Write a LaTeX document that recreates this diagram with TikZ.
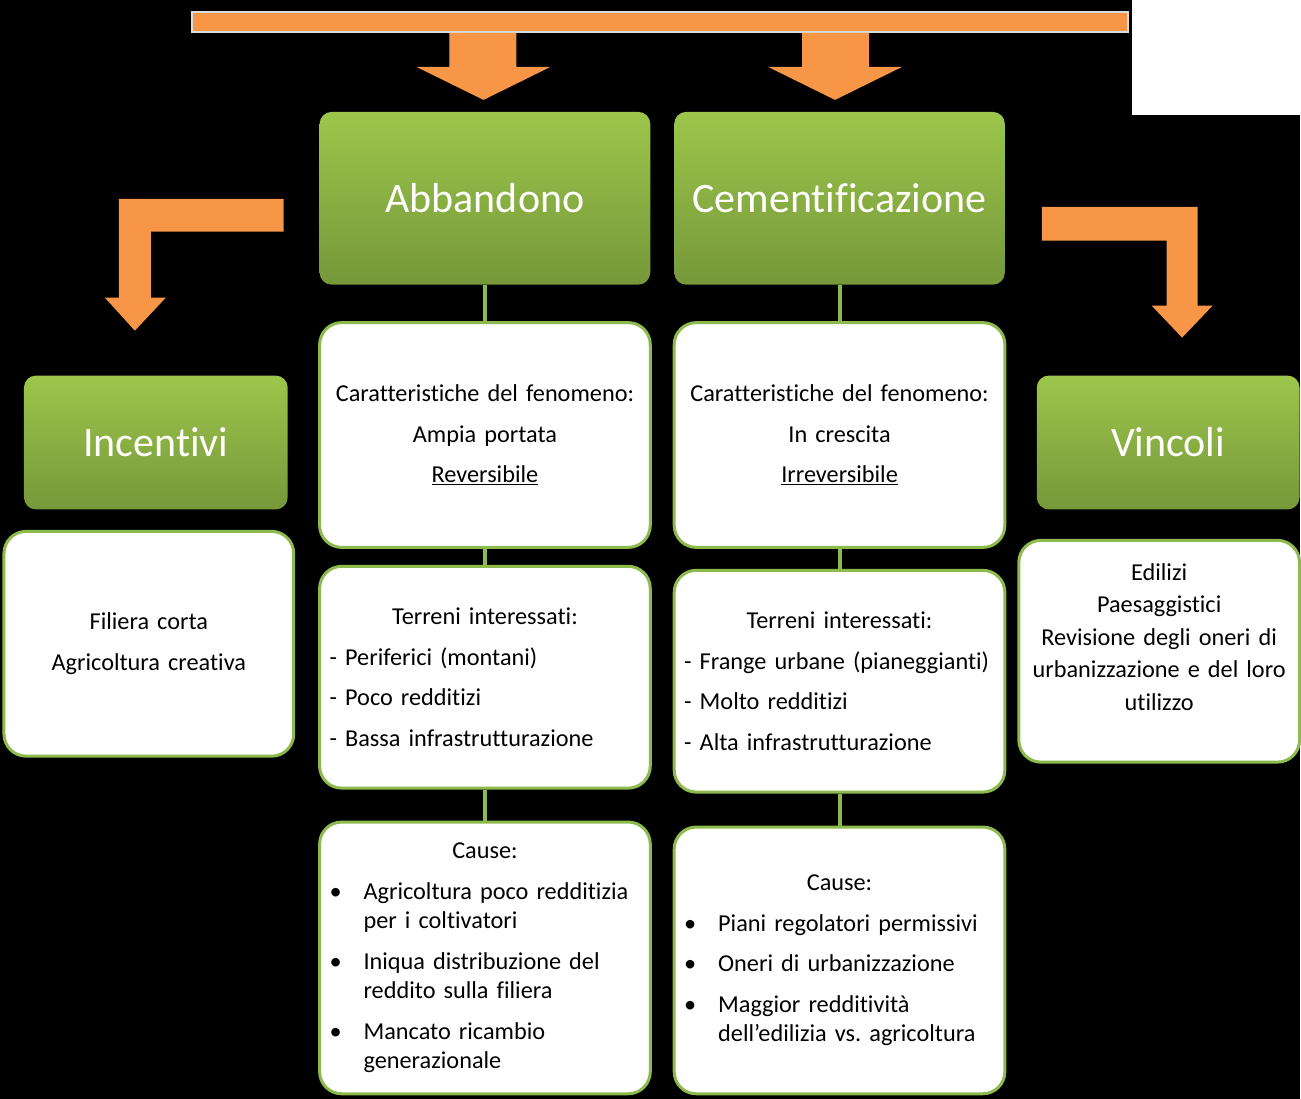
\documentclass[tikz,border=0pt]{standalone}
\usepackage{fontspec}
\setmainfont{Carlito}[Ligatures=NoCommon]
\usetikzlibrary{calc}
\definecolor{arancio}{HTML}{F79646}
\definecolor{verdesu}{HTML}{9CC64B}
\definecolor{verdegiu}{HTML}{76983A}
\definecolor{bordo}{HTML}{8DBA4C}
\definecolor{grigino}{HTML}{DCDCDC}

\newcommand{\punto}[1]{\par{\leftskip=34pt\noindent\llap{\makebox[34pt][l]{\textbullet}}#1\par}}

\tikzset{
  titolo/.style={rounded corners=12pt, top color=verdesu, bottom color=verdegiu,
    draw=none, text=white, inner sep=0pt, font=\fontsize{42}{48}\selectfont},
  scheda/.style={rounded corners=22pt, draw=bordo, line width=3pt, fill=white,
    inner xsep=10pt, inner ysep=0pt, align=left,
    font=\fontsize{24.3}{29.5}\selectfont\setlength{\parindent}{0pt}\setlength{\parskip}{11pt}},
  linea/.style={draw=bordo, line width=4pt},
  freccia/.style={fill=arancio, draw=none}
}

\begin{document}
\begin{tikzpicture}[x=1pt, y=-1pt]
  % sfondo
  \fill[black] (0,0) rectangle (1301,1100);
  \fill[white] (1133,0) rectangle (1301,115);

  % barra in alto
  \node[fill=arancio, draw=grigino, line width=2pt, minimum width=937pt,
        minimum height=20pt, inner sep=0pt] (barra) at (661,22.5) {};

  % frecce verso il basso
  \fill[freccia] (450,33) -- (517,33) -- (517,67) -- (551,67) -- (484,100)
    -- (417,67) -- (450,67) -- cycle;
  \fill[freccia] (803,33) -- (870,33) -- (870,67) -- (903,67) -- (836,100)
    -- (769,67) -- (803,67) -- cycle;

  % frecce piegate
  \fill[freccia] (284,199) -- (284,232) -- (151,232) -- (151,298) -- (166,298)
    -- (135,331) -- (105,298) -- (119,298) -- (119,199) -- cycle;
  \fill[freccia] (1043,207) -- (1199,207) -- (1199,306) -- (1214,306)
    -- (1183.5,338) -- (1153,306) -- (1168,306) -- (1168,241) -- (1043,241) -- cycle;

  % titoli
  \node[titolo, minimum width=331pt, minimum height=173pt] (abb) at (485.5,198.5) {Abbandono};
  \node[titolo, minimum width=331pt, minimum height=173pt] (cem) at (840.5,198.5) {Cementificazione};
  \node[titolo, minimum width=264pt, minimum height=134pt] (inc) at (156,443) {Incentivi};
  \node[titolo, minimum width=263pt, minimum height=134pt] (vin) at (1169.5,443) {Vincoli};

  % colonna Abbandono
  \node[scheda, text width=311pt, minimum height=225pt] (car1) at (485.5,435.5)
    {{\centering Caratteristiche del fenomeno:\par Ampia portata\par \underline{Reversibile}\par}};
  \node[scheda, text width=311pt, minimum height=222pt] (ter1) at (485.5,678)
    {{\centering Terreni interessati:\par}
     - Periferici (montani)\par
     - Poco redditizi\par
     - Bassa infrastrutturazione};
  \node[scheda, text width=311pt, minimum height=272pt] (cau1) at (485.5,959)
    {{\centering Cause:\par}
     \punto{Agricoltura poco redditizia\\per i coltivatori}
     \punto{Iniqua distribuzione del\\reddito sulla filiera}
     \punto{Mancato ricambio\\generazionale}};

  % colonna Cementificazione
  \node[scheda, text width=311pt, minimum height=225pt] (car2) at (840.5,435.5)
    {{\centering Caratteristiche del fenomeno:\par In crescita\par \underline{Irreversibile}\par}};
  \node[scheda, text width=311pt, minimum height=222pt] (ter2) at (840.5,682)
    {{\centering Terreni interessati:\par}
     - Frange urbane (pianeggianti)\par
     - Molto redditizi\par
     - Alta infrastrutturazione};
  \node[scheda, text width=311pt, minimum height=267pt] (cau2) at (840.5,961.5)
    {{\centering Cause:\par}
     \punto{Piani regolatori permissivi}
     \punto{Oneri di urbanizzazione}
     \punto{Maggior redditività\\dell'edilizia vs.\ agricoltura}};

  % schede laterali
  \node[scheda, text width=270pt, minimum height=225pt] (fil) at (149,644.5)
    {{\centering Filiera corta\par Agricoltura creativa\par}};
  \node[scheda, text width=261pt, minimum height=222pt] (vtx) at (1160.5,652)
    {{\centering\setlength{\baselineskip}{32.5pt}Edilizi\\Paesaggistici\\Revisione degli oneri di\\urbanizzazione e del loro\\utilizzo\par}\vspace{-12pt}\mbox{}};

  % collegamenti
  \draw[linea] (abb) -- (car1);
  \draw[linea] (car1) -- (ter1);
  \draw[linea] (ter1) -- (cau1);
  \draw[linea] (cem) -- (car2);
  \draw[linea] (car2) -- (ter2);
  \draw[linea] (ter2) -- (cau2);
\end{tikzpicture}
\end{document}
